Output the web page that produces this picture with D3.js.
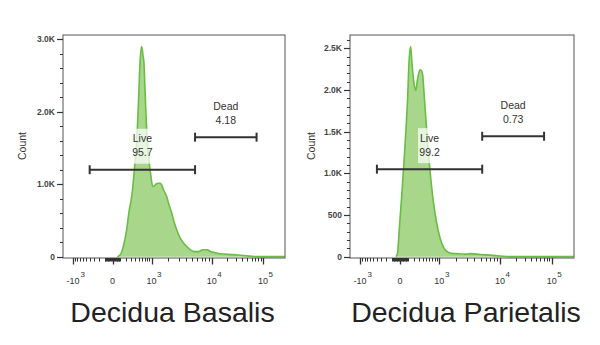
<!DOCTYPE html>
<html>
<head>
<meta charset="utf-8">
<script src="https://cdn.jsdelivr.net/npm/d3@7"></script>
<style>
  body { margin: 0; background: #fff; }
  svg { display: block; font-family: "Liberation Sans", Arial, sans-serif; }
</style>
</head>
<body>
<svg id="chart" width="600" height="345"></svg>
<script>
// ---- Decidua basalis: fluorescence value vs event count ----
const basalisValues = [60, 100, 145, 210, 257, 316, 395, 460, 501, 541, 597, 642, 677, 726, 781, 836, 894, 974,
  1050, 1136, 1239, 1337, 1435, 1540, 1658, 1886, 2066, 2295, 2510, 2784, 3156, 3570, 4249, 5159, 6119,
  7325, 8456, 9397, 11600, 14570, 26170, 56010, 87500, 262000];
const basalisCounts = [0, 25, 125, 370, 620, 830, 1290, 1750, 2210, 2670, 2900, 2780, 2670, 2210, 1750, 1475, 1290, 1100,
  970, 978, 1006, 1013, 1013, 992, 923, 831, 717, 606, 482, 372, 262, 193, 124, 73, 69,
  96, 96, 76, 55, 41, 28, 7, 0, 0];
const basalisYMax = 3060;
const basalisYTicks = [0, 1000, 2000, 3000];
const basalisYLabels = ["0", "1.0K", "2.0K", "3.0K"];
const basalisYMinorStep = 200;
const basalisGateBounds = [[-400, 5500], [5500, 75000]];
const basalisGateLevels = [1200, 1650];
const basalisGatePercents = ["95.7", "4.18"];

// ---- Decidua parietalis ----
const parietalisValues = [-48, -29, -8, 20, 48, 75, 100, 119, 147, 169, 205, 238, 275, 331, 368, 398, 441, 510, 595,
  714, 876, 1105, 1367, 1631, 2044, 2811, 3391, 4890, 7000, 10000, 15700, 262000];
const parietalisCounts = [0, 36, 324, 723, 1124, 1523, 1922, 2322, 2522, 2322, 2083, 1994, 2122, 2242, 2230, 2182, 1922, 1523, 1124,
  723, 404, 164, 64, 42, 36, 30, 36, 26, 18, 8, 0, 0];
const parietalisYMax = 2660;
const parietalisYTicks = [0, 500, 1000, 1500, 2000, 2500];
const parietalisYLabels = ["0", "500", "1.0K", "1.5K", "2.0K", "2.5K"];
const parietalisYMinorStep = 100;
const parietalisGateBounds = [[-400, 5300], [5300, 71000]];
const parietalisGateLevels = [1050, 1445];
const parietalisGatePercents = ["99.2", "0.73"];

// ---- shared axis / gate text ----
const gateNames = ["Live", "Dead"];
const xTickValues = [-1000, 0, 1000, 10000, 100000];
const xTickBases = ["-10", "0", "10", "10", "10"];
const xTickExps = ["3", "", "3", "4", "5"];
const titles = ["Decidua Basalis", "Decidua Parietalis"];

// ---- layout ----
const panels = [
  { x0: 63, x1: 285, titleX: 172.5, countX: 22.5, values: basalisValues, counts: basalisCounts,
    yMax: basalisYMax, yTicks: basalisYTicks, yLabels: basalisYLabels, yMinor: basalisYMinorStep,
    gates: basalisGateBounds, levels: basalisGateLevels, percents: basalisGatePercents, title: titles[0] },
  { x0: 350, x1: 574, titleX: 466, countX: 311, values: parietalisValues, counts: parietalisCounts,
    yMax: parietalisYMax, yTicks: parietalisYTicks, yLabels: parietalisYLabels, yMinor: parietalisYMinorStep,
    gates: parietalisGateBounds, levels: parietalisGateLevels, percents: parietalisGatePercents, title: titles[1] }
];
const yTop = 35, yBottom = 258;
// relative position of each decade tick across the plot width (biexponential display)
const decadeFrac = [0.045, 0.223, 0.399, 0.670, 0.901];

const fillColor = "#a8d68b";
const lineColor = "#69bd45";
const inkColor = "#333";

const svg = d3.select("#chart");

// symmetric log transform that underlies the biexponential-style axis
const symT = d3.scaleSymlog().constant(300)
  .domain([-1e5, 1e5])
  .range([-Math.log1p(1e5 / 300), Math.log1p(1e5 / 300)]);

panels.forEach((p, pi) => {
  const w = p.x1 - p.x0;
  const xLin = d3.scaleLinear()
    .domain(xTickValues.map(v => symT(v)))
    .range(decadeFrac.map(f => p.x0 + f * w));
  const x = v => xLin(symT(v));
  const y = d3.scaleLinear().domain([-p.yMax * 0.006, p.yMax]).range([yBottom, yTop]);

  const g = svg.append("g");

  const clipId = "clip" + pi;
  svg.append("defs").append("clipPath").attr("id", clipId)
    .append("rect").attr("x", p.x0).attr("y", yTop).attr("width", w).attr("height", yBottom - yTop);

  // histogram
  const pts = p.values.map((v, i) => [v, p.counts[i]]);
  const area = d3.area()
    .x(d => x(d[0])).y0(y(0)).y1(d => y(d[1]))
    .curve(d3.curveMonotoneX);
  const line = d3.line()
    .x(d => x(d[0])).y(d => y(d[1]))
    .curve(d3.curveMonotoneX);
  const hist = g.append("g").attr("clip-path", `url(#${clipId})`);
  hist.append("path").datum(pts).attr("d", area).attr("fill", fillColor);
  hist.append("path").datum(pts).attr("d", line)
    .attr("fill", "none").attr("stroke", lineColor).attr("stroke-width", 1.6)
    .attr("stroke-linejoin", "round");

  // frame
  g.append("rect").attr("x", p.x0).attr("y", yTop).attr("width", w).attr("height", yBottom - yTop)
    .attr("fill", "none").attr("stroke", "#555").attr("stroke-width", 1);

  // y axis ticks
  const yMinorTicks = d3.range(0, p.yMax + 1, p.yMinor);
  g.selectAll(".ymin").data(yMinorTicks).join("line")
    .attr("x1", p.x0 - 3).attr("x2", p.x0)
    .attr("y1", d => Math.round(y(d)) + 0.5).attr("y2", d => Math.round(y(d)) + 0.5)
    .attr("stroke", inkColor).attr("stroke-width", 1);
  g.selectAll(".ymaj").data(p.yTicks).join("line")
    .attr("x1", p.x0 - 6).attr("x2", p.x0)
    .attr("y1", d => Math.round(y(d)) + 0.5).attr("y2", d => Math.round(y(d)) + 0.5)
    .attr("stroke", inkColor).attr("stroke-width", 1.2);
  g.selectAll(".ylab").data(p.yTicks).join("text")
    .attr("x", p.x0 - 8).attr("y", d => y(d) + 3)
    .attr("text-anchor", "end").attr("font-size", 8.5).attr("font-weight", "bold")
    .attr("fill", "#444")
    .text((d, i) => p.yLabels[i]);

  // y axis title
  g.append("text")
    .attr("transform", `translate(${p.countX + 3.5},146) rotate(-90)`)
    .attr("text-anchor", "middle").attr("font-size", 10.5).attr("fill", inkColor)
    .text("Count");

  // x axis ticks
  const xMinor = [];
  for (let k = 1; k <= 9; k++) { xMinor.push(-k * 100, -k * 10, k * 10, k * 100); }
  for (let k = 2; k <= 9; k++) { xMinor.push(k * 1000, k * 10000); }
  g.selectAll(".xmin").data(xMinor).join("line")
    .attr("x1", d => Math.round(x(d)) + 0.5).attr("x2", d => Math.round(x(d)) + 0.5)
    .attr("y1", yBottom).attr("y2", yBottom + 3.5)
    .attr("stroke", inkColor).attr("stroke-width", 1);
  g.selectAll(".xmaj").data(xTickValues).join("line")
    .attr("x1", d => Math.round(x(d)) + 0.5).attr("x2", d => Math.round(x(d)) + 0.5)
    .attr("y1", yBottom).attr("y2", yBottom + 6.5)
    .attr("stroke", inkColor).attr("stroke-width", 1.3);

  const xl = g.selectAll(".xlab").data(xTickValues).join("text")
    .attr("x", d => x(d)).attr("y", 284)
    .attr("text-anchor", "middle").attr("font-size", 9).attr("fill", inkColor);
  xl.append("tspan").text((d, i) => xTickBases[i]);
  g.selectAll(".xexp").data(xTickValues).join("text")
    .attr("x", (d, i) => x(d) + (xTickBases[i] === "-10" ? 7.5 : 5.5))
    .attr("y", 276.5)
    .attr("text-anchor", "start").attr("font-size", 8).attr("fill", inkColor)
    .text((d, i) => xTickExps[i]);

  // gates
  p.gates.forEach((b, gi) => {
    const gy = y(p.levels[gi]);
    const xa = x(b[0]), xb = x(b[1]);
    const cx = (xa + xb) / 2;
    const gg = g.append("g");
    gg.append("rect")
      .attr("x", cx - 11.5).attr("y", gy - 41).attr("width", 23).attr("height", 35)
      .attr("fill", "#fff").attr("opacity", 0.72);
    gg.append("text").attr("x", cx).attr("y", gy - 27.3)
      .attr("text-anchor", "middle").attr("font-size", 10.5).attr("fill", inkColor)
      .text(gateNames[gi]);
    gg.append("text").attr("x", cx).attr("y", gy - 13.6)
      .attr("text-anchor", "middle").attr("font-size", 10.5).attr("fill", inkColor)
      .text(p.percents[gi]);
    gg.append("line").attr("x1", xa).attr("x2", xb).attr("y1", gy).attr("y2", gy)
      .attr("stroke", inkColor).attr("stroke-width", 2);
    [xa, xb].forEach(ex => {
      gg.append("line").attr("x1", ex).attr("x2", ex).attr("y1", gy - 4.5).attr("y2", gy + 4.5)
        .attr("stroke", inkColor).attr("stroke-width", 2);
    });
  });

  // panel title
  svg.append("text").attr("x", p.titleX).attr("y", 322)
    .attr("text-anchor", "middle").attr("font-size", 28.5).attr("fill", "#222")
    .text(p.title);
});
</script>
</body>
</html>
